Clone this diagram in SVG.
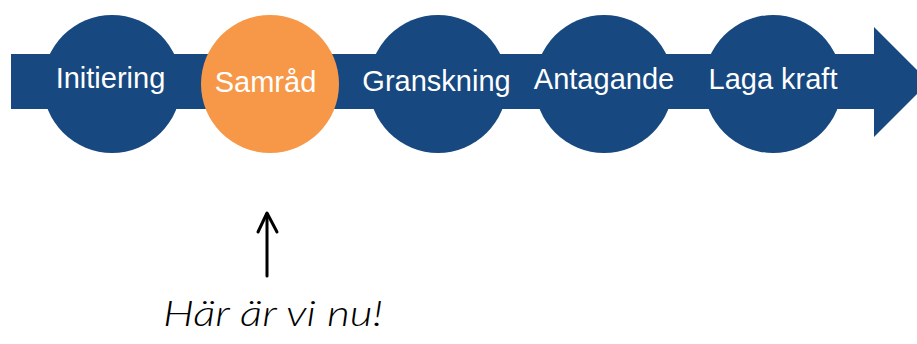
<svg xmlns="http://www.w3.org/2000/svg" width="917" height="344" viewBox="0 0 917 344">
<defs>
<style>
.blue{fill:#174880}
.orange{fill:#F79848}
.lbl{font-family:"Liberation Sans",Arial,sans-serif;font-size:29px;fill:#ffffff;text-anchor:middle}
.hand{font-family:Lato,"Open Sans",sans-serif;font-style:italic;font-weight:300;font-size:36px;fill:#000}
.pen{fill:none;stroke:#000;stroke-width:3;stroke-linecap:round;stroke-linejoin:round}
</style>
</defs>
<rect width="917" height="344" fill="#fff"/>
<g id="timeline">
<polygon class="blue" points="11,54 874,54 874,27 929,82 874,137 874,109 11,109"/>
</g>
<g id="node-initiering">
<circle class="blue" cx="112" cy="84" r="69"/>
<text class="lbl" x="110.5" y="88">Initiering</text>
</g>
<g id="node-samrad">
<circle class="orange" cx="270" cy="84" r="69"/>
<text class="lbl" x="265.5" y="92">Samråd</text>
</g>
<g id="node-granskning">
<circle class="blue" cx="438" cy="84" r="69"/>
<text class="lbl" x="436.5" y="91">Granskning</text>
</g>
<g id="node-antagande">
<circle class="blue" cx="604" cy="84" r="69"/>
<text class="lbl" x="604" y="89">Antagande</text>
</g>
<g id="node-laga-kraft">
<circle class="blue" cx="773" cy="84" r="69"/>
<text class="lbl" x="773" y="89">Laga kraft</text>
</g>
<g id="connectors">
<line class="pen" x1="267" y1="276" x2="267" y2="214"/>
<path class="pen" d="M258,232 L267,213 L277,232"/>
</g>
<g id="note">
<text class="hand" x="163" y="326" textLength="220" lengthAdjust="spacingAndGlyphs">Här är vi nu!</text>
</g>
</svg>
